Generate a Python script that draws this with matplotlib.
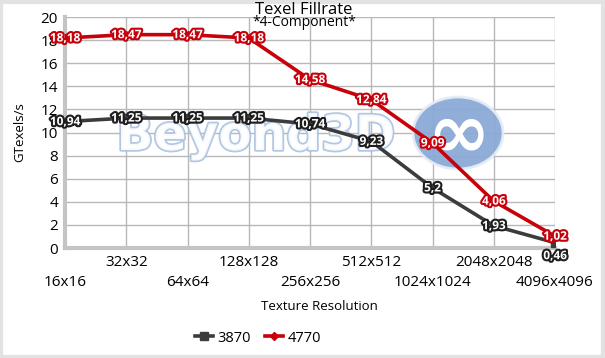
import matplotlib
matplotlib.use("Agg")
import matplotlib.pyplot as plt
import matplotlib.patheffects as pe
from matplotlib.patches import Rectangle, Ellipse
from matplotlib.lines import Line2D
import matplotlib.transforms as mtransforms

resolutions = ["16x16", "32x32", "64x64", "128x128", "256x256",
               "512x512", "1024x1024", "2048x2048", "4096x4096"]
gpu_3870 = [10.94, 11.25, 11.25, 11.25, 10.74, 9.23, 5.2, 1.93, 0.46]
gpu_4770 = [18.18, 18.47, 18.47, 18.18, 14.58, 12.84, 9.09, 4.06, 1.02]

dark = "#3c3c3c"
red = "#c8000a"
plt.rcParams['font.family'] = ['Open Sans', 'DejaVu Sans']

W, H = 605, 358
fig = plt.figure(figsize=(W / 100, H / 100), dpi=100)
ax = fig.add_axes([65 / W, 1 - 248 / H, 490 / W, 231 / H])

# figure border
fig.patches.append(Rectangle((0.002, 0.004), 0.994, 0.99, transform=fig.transFigure,
                             fill=False, edgecolor="#e2e2e2", linewidth=3))

x = list(range(len(resolutions)))

# watermark (between grid and lines)
wm = ax.text(256 / W, 1 - 136 / H, "Beyond3D", ha="center", va="center",
             fontsize=35, fontweight="bold", family="DejaVu Sans",
             color="white", alpha=0.9, zorder=2, transform=fig.transFigure, clip_on=False)
wm.set_path_effects([pe.Stroke(linewidth=2.5, foreground="#a9c1e0"), pe.Normal()])
ax.add_patch(Ellipse((458 / W, 1 - 133 / H), 90 / W, 72 / H, transform=fig.transFigure,
                     facecolor="#8aaad6", edgecolor="#e4ecf6", linewidth=2,
                     alpha=0.95, zorder=2, clip_on=False))
ax.text(458 / W, 1 - 136 / H, "\u221e", ha="center", va="center", fontsize=54,
        fontweight="bold", family="DejaVu Sans", color="white", zorder=2.5,
        transform=fig.transFigure, clip_on=False)

ax.set_facecolor("none")
ax.plot(x, gpu_3870, color=dark, linewidth=2.6, marker="s", markersize=6, zorder=5)
ax.plot(x, gpu_4770, color=red, linewidth=2.6, marker="D", markersize=4.5, zorder=5)

ax.set_xlim(0, len(resolutions) - 1)
ax.set_ylim(0, 20)
ax.set_yticks(range(0, 21, 2))
ax.set_xticks(x)
ax.set_xticklabels([])
ax.tick_params(axis="both", length=0, labelsize=11, pad=5)
ax.grid(True, color="#b8b8b8", linewidth=1)
ax.set_axisbelow(True)
for s in ["top", "right"]:
    ax.spines[s].set_visible(False)
for s in ["left", "bottom"]:
    ax.spines[s].set_color("#c4c4c4")
    ax.spines[s].set_linewidth(3)

# staggered category labels
trans = mtransforms.blended_transform_factory(ax.transData, ax.transAxes)
for i, lab in enumerate(resolutions):
    off = -14 if i % 2 else -34
    ax.annotate(lab, (i, 0), xycoords=trans, xytext=(0, off), textcoords="offset pixels",
                ha="center", va="center", fontsize=11, annotation_clip=False)

# data labels
def put_labels(vals, col, low_last=False):
    for i, v in enumerate(vals):
        dy = -13 if (low_last and i == len(vals) - 1) else 0
        t = ax.annotate(f"{v:g}".replace(".", ","), (i, v), xytext=(0, dy),
                        textcoords="offset pixels", ha="center", va="center",
                        fontsize=8.5, fontweight="bold", color="white", zorder=10,
                        annotation_clip=False)
        t.set_path_effects([pe.Stroke(linewidth=3, foreground=col), pe.Normal()])

put_labels(gpu_4770, red)
put_labels(gpu_3870, "#1e1e1e", low_last=True)

fig.text(304 / W, 1 - 10 / H, "Texel Fillrate", ha="center", va="center", fontsize=12)
fig.text(304 / W, 1 - 23 / H, "*4-Component*", ha="center", va="center", fontsize=10)
fig.text(20 / W, 1 - 132 / H, "GTexels/s", ha="center", va="center", rotation=90, fontsize=9.5)
fig.text(319 / W, 1 - 307 / H, "Texture Resolution", ha="center", va="center", fontsize=9.5)

handles = [Line2D([], [], color=dark, linewidth=2.6, marker="s", markersize=6),
           Line2D([], [], color=red, linewidth=2.6, marker="D", markersize=4.5)]
fig.legend(handles, ["3870", "4770"], loc="center", bbox_to_anchor=(258 / W, 1 - 338 / H),
           ncol=2, frameon=False, fontsize=10.5, handlelength=1.2, handletextpad=0.3,
           columnspacing=1.0)

fig.savefig("out.png", dpi=100)
